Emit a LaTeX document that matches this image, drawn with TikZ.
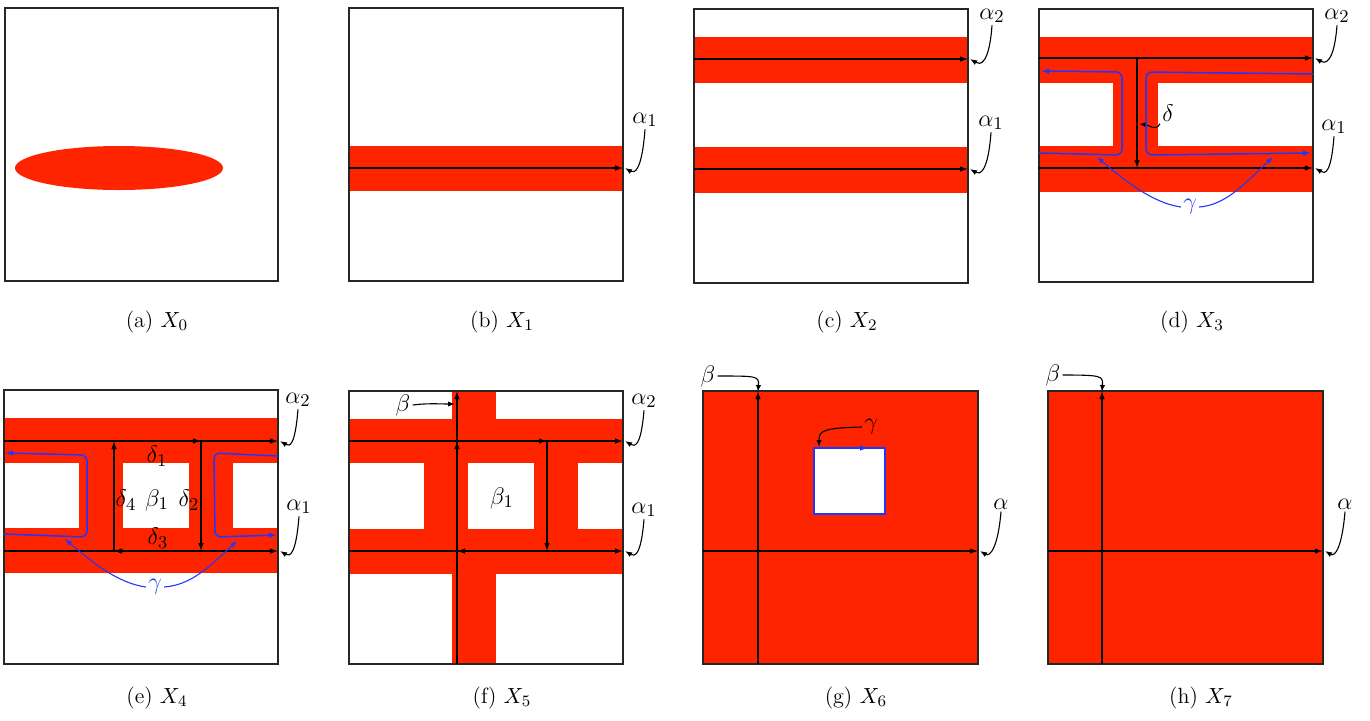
\documentclass[tikz,border=0pt]{standalone}
\usetikzlibrary{arrows.meta}
\definecolor{bandred}{RGB}{255,36,0}
\definecolor{gblue}{RGB}{30,55,255}
\begin{document}
\begin{tikzpicture}[x=0.5pt,y=-0.5pt,
  box/.style={draw=black!85,line width=0.6pt},
  arr/.style={line width=0.55pt,-{Latex[length=4pt,width=2.8pt]}},
  conn/.style={line width=0.55pt,-{Latex[length=3.5pt,width=2.6pt]}},
  bconn/.style={gblue,line width=0.55pt,-{Latex[length=3.5pt,width=2.6pt]}},
  gloop/.style={gblue,line width=0.75pt,rounded corners=3pt,-{Latex[length=4pt,width=2.8pt]}},
  lab/.style={font=\fontsize{12.5}{15}\selectfont,inner sep=1pt},
  captext/.style={font=\fontsize{11}{13}\selectfont}
]
\useasboundingbox (0,0) rectangle (1370,720);

% ---------- (a)
\fill[bandred] (119,168) ellipse [x radius=52pt, y radius=11pt];
\draw[box] (5,8) rectangle (278,281);
\node[captext] (capa) at (157,322) {(a) $X_0$};

% ---------- (b)
\fill[bandred] (349,146) rectangle (623,191);
\draw[box] (349,8) rectangle (623,281);
\coordinate (b1s) at (349,168); \coordinate (b1e) at (623,168);
\draw[arr] (b1s) -- (b1e);
\node[lab] (bl1) at (645,120) {$\alpha_1$};
\draw[conn] (bl1.south) .. controls +(-3,40) and +(10,6) .. ([xshift=1pt]b1e);
\node[captext] (capb) at (502,322) {(b) $X_1$};

% ---------- (c)
\fill[bandred] (694,37) rectangle (968,83);
\fill[bandred] (694,147) rectangle (968,193);
\draw[box] (694,9) rectangle (968,283);
\coordinate (c2s) at (694,59); \coordinate (c2e) at (968,59);
\coordinate (c1s) at (694,169); \coordinate (c1e) at (968,169);
\draw[arr] (c2s) -- (c2e);
\draw[arr] (c1s) -- (c1e);
\node[lab] (cl2) at (992,16) {$\alpha_2$};
\node[lab] (cl1) at (991,123) {$\alpha_1$};
\draw[conn] (cl2.south) .. controls +(-3,40) and +(10,6) .. ([xshift=1pt]c2e);
\draw[conn] (cl1.south) .. controls +(-3,40) and +(10,6) .. ([xshift=1pt]c1e);
\node[captext] (capc) at (847,322) {(c) $X_2$};

% ---------- (d)
\fill[bandred] (1039,37) rectangle (1313,192);
\fill[white] (1039,83) rectangle (1113,146);
\fill[white] (1158,83) rectangle (1313,146);
\draw[box] (1039,9) rectangle (1313,282);
\coordinate (d2s) at (1039,58); \coordinate (d2e) at (1313,58);
\coordinate (d1s) at (1039,168); \coordinate (d1e) at (1313,168);
\coordinate (dtop) at (1137,58); \coordinate (dbot) at (1137,168);
\coordinate (dmid) at (1139,124);
\draw[arr] (d2s) -- (d2e);
\draw[arr] (d1s) -- (d1e);
\draw[arr] (dtop) -- (dbot);
\node[lab] (dl2) at (1337,16) {$\alpha_2$};
\node[lab] (dl1) at (1334,127) {$\alpha_1$};
\draw[conn] (dl2.south) .. controls +(-3,38) and +(10,6) .. ([xshift=1pt]d2e);
\draw[conn] (dl1.south) .. controls +(-3,38) and +(10,6) .. ([xshift=1pt]d1e);
\node[lab] (dd) at (1168,113) {$\delta$};
\draw[conn] (dd.south west) .. controls +(-4,8) and +(10,1) .. (dmid);
% gamma loops
\coordinate (dga) at (1039,153); \coordinate (dgb) at (1122,155);
\coordinate (dgc) at (1122,72); \coordinate (dgd) at (1041,71);
\draw[gloop] (dga) -- (dgb) -- (dgc) -- (dgd);
\coordinate (dge) at (1313,74); \coordinate (dgf) at (1146,72);
\coordinate (dgg) at (1146,155); \coordinate (dgh) at (1311,153);
\draw[gloop] (dge) -- (dgf) -- (dgg) -- (dgh);
\node[lab,text=gblue] (dg) at (1190,207) {$\gamma$};
\coordinate (dgl) at (1097,157); \coordinate (dgr) at (1273,157);
\draw[bconn] (dg.west) .. controls +(-28,-4) and +(28,24) .. (dgl);
\draw[bconn] (dg.east) .. controls +(28,-2) and +(-26,24) .. (dgr);
\node[captext] (capd) at (1192,322) {(d) $X_3$};

% ---------- (e)
\fill[bandred] (4,418) rectangle (278,573);
\fill[white] (4,463) rectangle (79,528);
\fill[white] (123,463) rectangle (189,528);
\fill[white] (233,463) rectangle (278,528);
\draw[box] (4,390) rectangle (278,664);
\coordinate (e2s) at (4,441); \coordinate (e2e) at (278,441);
\coordinate (e1s) at (4,551); \coordinate (e1e) at (278,551);
\coordinate (eq1) at (114,441); \coordinate (eq2) at (201,441);
\coordinate (eq3) at (201,551); \coordinate (eq4) at (114,551);
\draw[arr] (e2s) -- (e2e);
\draw[arr] (e1s) -- (e1e);
\draw[arr] (eq1) -- (eq2);
\draw[arr] (eq2) -- (eq3);
\draw[arr] (eq3) -- (eq4);
\draw[arr] (eq4) -- (eq1);
\node[lab] (el2) at (298,400) {$\alpha_2$};
\node[lab] (el1) at (299,507) {$\alpha_1$};
\draw[conn] (el2.south) .. controls +(-3,36) and +(10,6) .. ([xshift=1pt]e2e);
\draw[conn] (el1.south) .. controls +(-3,38) and +(10,6) .. ([xshift=1pt]e1e);
\node[lab] (ed1) at (157,456) {$\delta_1$};
\node[lab] (ed4) at (126,500) {$\delta_4$};
\node[lab] (eb1) at (157,500) {$\beta_1$};
\node[lab] (ed2) at (189,500) {$\delta_2$};
\node[lab] (ed3) at (158,538) {$\delta_3$};
\coordinate (ega) at (4,534); \coordinate (egb) at (87,537);
\coordinate (egc) at (87,455); \coordinate (egd) at (5,453);
\draw[gloop] (ega) -- (egb) -- (egc) -- (egd);
\coordinate (ege) at (278,456); \coordinate (egf) at (214,453);
\coordinate (egg) at (215,537); \coordinate (egh) at (277,535);
\draw[gloop] (ege) -- (egf) -- (egg) -- (egh);
\node[lab,text=gblue] (eg) at (155,587) {$\gamma$};
\coordinate (egl) at (65,539); \coordinate (egr) at (237,541);
\draw[bconn] (eg.west) .. controls +(-28,-4) and +(28,24) .. (egl);
\draw[bconn] (eg.east) .. controls +(28,-2) and +(-26,24) .. (egr);
\node[captext] (cape) at (157,698) {(e) $X_4$};

% ---------- (f)
\fill[bandred] (349,419) rectangle (623,574);
\fill[bandred] (452,391) rectangle (496,664);
\fill[white] (349,463) rectangle (424,529);
\fill[white] (468,463) rectangle (534,529);
\fill[white] (578,463) rectangle (623,529);
\draw[box] (349,391) rectangle (623,664);
\coordinate (f2s) at (349,441); \coordinate (f2e) at (623,441);
\coordinate (f1s) at (349,551); \coordinate (f1e) at (623,551);
\coordinate (fbb) at (457,664); \coordinate (fbt) at (457,391);
\coordinate (fq1) at (457,441); \coordinate (fq2) at (547,441);
\coordinate (fq3) at (547,551); \coordinate (fq4) at (457,551);
\draw[arr] (f2s) -- (f2e);
\draw[arr] (f1s) -- (f1e);
\draw[arr] (fbb) -- (fbt);
\draw[arr] (fq1) -- (fq2);
\draw[arr] (fq2) -- (fq3);
\draw[arr] (fq3) -- (fq4);
\draw[arr] (fq4) -- (fq1);
\node[lab] (fl2) at (644,401) {$\alpha_2$};
\node[lab] (fl1) at (644,510) {$\alpha_1$};
\draw[conn] (fl2.south) .. controls +(-3,36) and +(10,6) .. ([xshift=1pt]f2e);
\draw[conn] (fl1.south) .. controls +(-3,36) and +(10,6) .. ([xshift=1pt]f1e);
\node[lab] (fb) at (403,405) {$\beta$};
\coordinate (fbtip) at (455,404);
\draw[conn] (fb.east) .. controls +(15,-2) and +(-15,0) .. (fbtip);
\node[lab] (fb1) at (502,498) {$\beta_1$};
\node[captext] (capf) at (502,698) {(f) $X_5$};

% ---------- (g)
\fill[bandred] (703,391) rectangle (978,664);
\draw[box] (703,391) rectangle (978,664);
\fill[white] (814,448) rectangle (885,514);
\draw[gblue,line width=0.75pt] (814,448) rectangle (885,514);
\coordinate (gsa) at (838,448); \coordinate (gsb) at (868,448);
\draw[arr,gblue] (gsa) -- (gsb);
\coordinate (gbb) at (758,664); \coordinate (gbt) at (758,391);
\coordinate (gas) at (703,551); \coordinate (gae) at (978,551);
\draw[arr] (gbb) -- (gbt);
\draw[arr] (gas) -- (gae);
\node[lab] (gb) at (708,376) {$\beta$};
\draw[conn] (gb.east) .. controls +(40,0) and +(1,-16) .. ([yshift=-0.5pt]gbt);
\node[lab] (gg) at (871,427) {$\gamma$};
\coordinate (ggt) at (819,447);
\draw[conn] (gg.west) .. controls +(-40,1) and +(0,-16) .. (ggt);
\node[lab] (ga) at (1001,504) {$\alpha$};
\draw[conn] (ga.south) .. controls +(-3,36) and +(10,6) .. ([xshift=1pt]gae);
\node[captext] (capg) at (856,698) {(g) $X_6$};

% ---------- (h)
\fill[bandred] (1048,391) rectangle (1323,664);
\draw[box] (1048,391) rectangle (1323,664);
\coordinate (hbb) at (1102,664); \coordinate (hbt) at (1102,391);
\coordinate (has) at (1048,551); \coordinate (hae) at (1323,551);
\draw[arr] (hbb) -- (hbt);
\draw[arr] (has) -- (hae);
\node[lab] (hb) at (1053,375) {$\beta$};
\draw[conn] (hb.east) .. controls +(40,0) and +(1,-16) .. ([yshift=-0.5pt]hbt);
\node[lab] (ha) at (1345,504) {$\alpha$};
\draw[conn] (ha.south) .. controls +(-3,36) and +(10,6) .. ([xshift=1pt]hae);
\node[captext] (caph) at (1201,698) {(h) $X_7$};
\end{tikzpicture}
\end{document}
